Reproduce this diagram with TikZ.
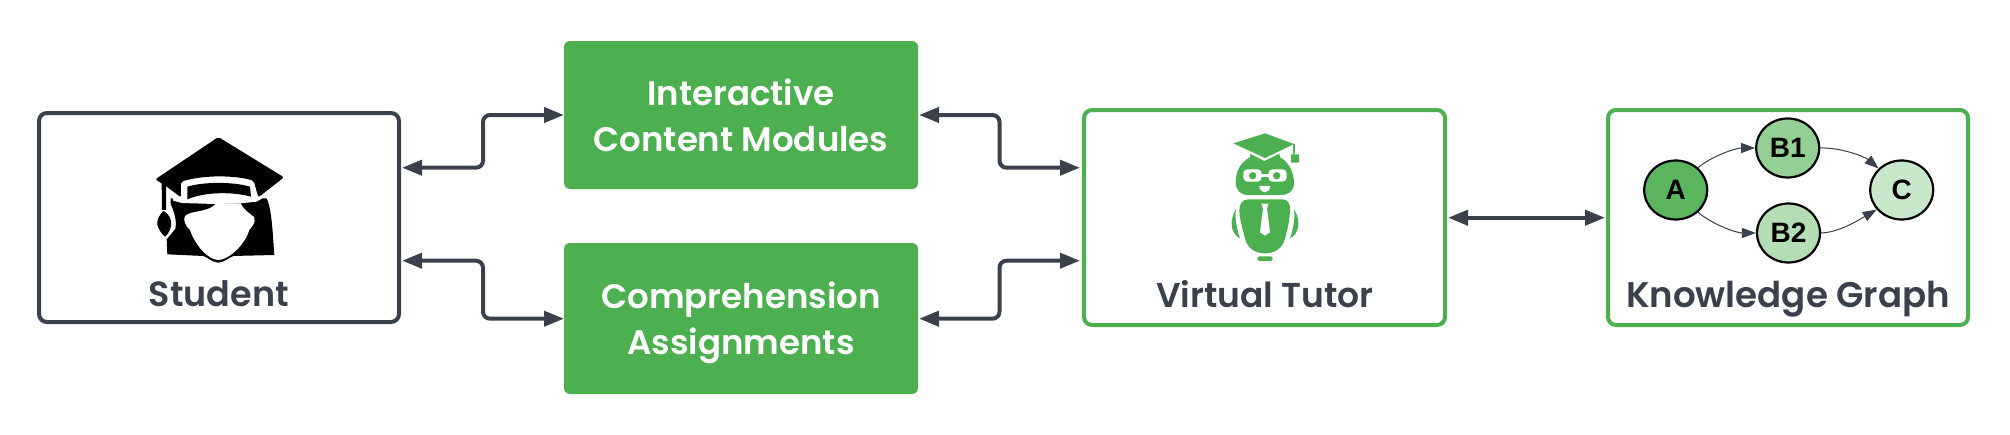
\documentclass[tikz,border=0pt]{standalone}
\usepackage{fontspec}
\usetikzlibrary{arrows.meta,calc,shapes.geometric}
\newfontfamily\labfont{Poppins SemiBold}
\newfontfamily\letterfont{Liberation Sans}[BoldFont={Liberation Sans Bold}]
\definecolor{slate}{HTML}{3A414D}
\definecolor{leaf}{HTML}{4CAF50}
\tikzset{
 x=1pt,y=-1pt,
 box/.style={rectangle,rounded corners=8pt,line width=4pt,fill=white,inner sep=0pt,outer sep=0pt,anchor=north west},
 slatebox/.style={box,draw=slate},
 leafbox/.style={box,draw=leaf},
 solidbox/.style={rectangle,rounded corners=6pt,fill=leaf,text=white,inner sep=0pt,outer sep=0pt,anchor=north west,align=center,text depth=0pt,font=\labfont\fontsize{34}{46}\selectfont},
 boxlabel/.style={anchor=base,inner sep=0pt,text=slate},
 link/.style={draw=slate,line width=4pt,rounded corners=7pt,{Triangle[length=20pt,width=15pt]}-{Triangle[length=20pt,width=15pt]}},
 gnode/.style={ellipse,draw=black,line width=2.2pt,minimum width=63pt,minimum height=59pt,inner sep=0pt,font=\letterfont\bfseries\fontsize{28}{30}\selectfont},
 gedge/.style={draw=slate,line width=1pt,-{Triangle[length=14pt,width=10pt]}},
 icon/.style={fill=black,draw=none},
 gap/.style={fill=white,draw=none},
 zoomed/.style={x=0.3333pt,y=-0.3333pt},
}
\begin{document}
\begin{tikzpicture}
\useasboundingbox (0,0) rectangle (2010,434);
% boxes
\node[slatebox,minimum width=360pt,minimum height=209pt] (student) at (39,113) {};
\node[solidbox,minimum width=354pt,minimum height=148pt] (modules) at (564,41) {Interactive\\Content Modules};
\node[solidbox,minimum width=354pt,minimum height=151pt] (assign) at (564,243) {Comprehension\\Assignments};
\node[leafbox,minimum width=361pt,minimum height=215pt] (tutor) at (1084,110) {};
\node[leafbox,minimum width=360pt,minimum height=215pt] (graph) at (1608,110) {};
% box labels
\node[boxlabel,font=\labfont\fontsize{35}{40}\selectfont] (studentlabel) at (219,306) {Student};
\node[boxlabel,font=\labfont\fontsize{34.5}{40}\selectfont] (tutorlabel) at (1265,307) {Virtual Tutor};
\node[boxlabel,font=\labfont\fontsize{35.6}{40}\selectfont] (graphlabel) at (1788,307) {Knowledge Graph};
% ports
\coordinate (sa) at ($(student.north east)+(3,54.7)$);
\coordinate (sb) at ($(student.north east)+(3,147.7)$);
\coordinate (ma) at ($(modules.north west)+(0,74)$);
\coordinate (mb) at ($(modules.north east)+(1,74)$);
\coordinate (aa) at ($(assign.north west)+(0,75.7)$);
\coordinate (ab) at ($(assign.north east)+(1,75.7)$);
\coordinate (ta) at ($(tutor.north west)+(-4,57.7)$);
\coordinate (tb) at ($(tutor.north west)+(-4,150.7)$);
\coordinate (tc) at ($(tutor.north east)+(3,107.7)$);
\coordinate (gc) at ($(graph.north west)+(-3,107.7)$);
% connectors
\draw[link] (sa) -| (483,115) -- (ma);
\draw[link] (sb) -| (483,318.7) -- (aa);
\draw[link] (mb) -| (999.5,167.7) -- (ta);
\draw[link] (ab) -| (999.5,260.7) -- (tb);
\draw[link] (tc) -- (gc);
% knowledge graph
\node[gnode,fill=leaf!92!white] (A) at (1675.7,190) {A};
\node[gnode,fill=leaf!60!white] (B1) at (1787.7,148) {B1};
\node[gnode,fill=leaf!42!white] (B2) at (1788.5,233) {B2};
\node[gnode,fill=leaf!30!white] (C) at (1901.7,190) {C};
\draw[gedge] (A.45) to[out=40,in=180,looseness=0.8] (B1.west);
\draw[gedge] (A.-45) to[out=-40,in=180,looseness=0.8] (B2.west);
\draw[gedge] (B1.east) to[out=2,in=140,looseness=0.8] (C.137);
\draw[gedge] (B2.east) to[out=2,in=-150,looseness=0.8] (C.-142);
% student icon
\begin{scope}[shift={(150,130)},zoomed]
\fill[icon] (62,205) -- (350,205) .. controls (366,240) and (368,310) .. (373,375) -- (250,378) .. controls (235,384) and (220,398) .. (205,398) .. controls (190,398) and (175,384) .. (160,378) -- (52,373) -- (50,328) -- (76,297) .. controls (81,270) and (72,245) .. (62,222) -- cycle;
\fill[gap] (58,175) -- (205,120) -- (335,190) -- (335,206) -- (320,215) -- (272,220) -- (195,222) -- (95,219) -- (70,212) -- cycle;
\fill[icon,rounded corners=2pt] (205,21) -- (402,142) -- (325,202) -- (311,152) .. controls (250,135) and (160,135) .. (93,155) -- (93,202) -- (50,170) -- (16,148) -- cycle;
\fill[icon] (112,170) .. controls (160,155) and (250,155) .. (300,170) -- (303,200) .. controls (250,185) and (165,185) .. (112,208) -- cycle;
\fill[icon] (35,160) -- (48,165) -- (48,240) -- (36,240) -- cycle;
\fill[icon] (40,243) .. controls (28,255) and (20,270) .. (22,285) .. controls (26,300) and (38,315) .. (45,320) .. controls (58,310) and (66,290) .. (63,272) .. controls (60,258) and (50,248) .. (40,243) -- cycle;
\fill[gap] (195,220) -- (272,220) .. controls (280,240) and (300,250) .. (313,262) .. controls (318,280) and (305,290) .. (298,300) .. controls (285,345) and (235,390) .. (205,390) .. controls (175,390) and (135,345) .. (120,300) .. controls (108,290) and (98,270) .. (105,258) .. controls (125,240) and (170,248) .. (195,224) -- cycle;
\end{scope}
% tutor icon
\begin{scope}[shift={(1220,125)},zoomed]
\fill[leaf] (135,25) -- (222,57) -- (135,99) -- (40,55) -- cycle;
\fill[leaf] (220,58) rectangle (226,88);
\fill[leaf,rounded corners=0.7pt] (213,88) rectangle (237,113);
\fill[leaf] (90,86) -- (133,108) -- (178,86) -- (180,97) .. controls (205,110) and (222,140) .. (222,175) .. controls (222,197) and (205,210) .. (185,210) -- (85,210) .. controls (60,210) and (47,195) .. (47,170) .. controls (47,135) and (65,110) .. (90,97) -- cycle;
\fill[white,rounded corners=4pt] (70,133) rectangle (125,170);
\fill[white,rounded corners=4pt] (145,133) rectangle (200,170);
\fill[white] (120,147) rectangle (150,155);
\fill[leaf] (98,152) circle[radius=11];
\fill[leaf] (170,152) circle[radius=11];
\fill[white] (118,183) -- (151,183) .. controls (150,195) and (142,202) .. (134,202) .. controls (126,202) and (119,195) .. (118,183) -- cycle;
\fill[leaf] (85,223) -- (185,223) .. controls (207,223) and (212,240) .. (210,260) .. controls (207,300) and (200,320) .. (195,340) .. controls (188,370) and (165,385) .. (135,385) .. controls (105,385) and (82,370) .. (75,340) .. controls (70,320) and (60,290) .. (58,260) .. controls (57,240) and (65,223) .. (85,223) -- cycle;
\fill[white] (124,236) -- (146,236) -- (141,250) -- (150,322) -- (135,332) -- (120,322) -- (129,250) -- cycle;
\fill[leaf] (48,252) .. controls (28,285) and (30,325) .. (60,340) .. controls (50,310) and (44,280) .. (48,252) -- cycle;
\fill[leaf] (222,252) .. controls (242,285) and (240,325) .. (210,340) .. controls (220,310) and (226,280) .. (222,252) -- cycle;
\fill[leaf,rounded corners=2.2pt] (112,394) rectangle (158,408);
\end{scope}
\end{tikzpicture}
\end{document}
